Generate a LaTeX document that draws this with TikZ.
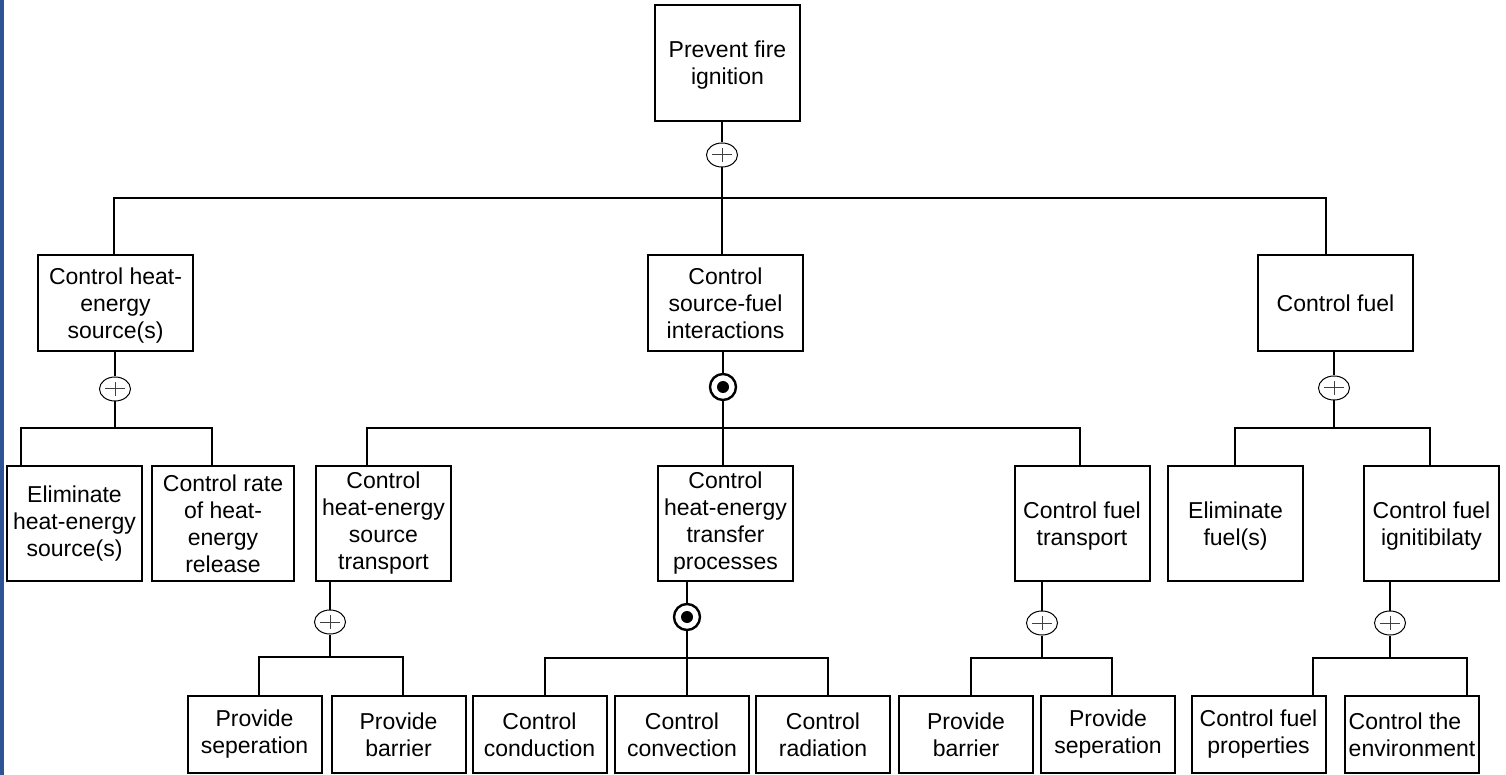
\documentclass[tikz,border=0pt]{standalone}
\usepackage{fontspec}
\setmainfont{Liberation Sans}
\usetikzlibrary{shapes.geometric}
\definecolor{sideblue}{RGB}{46,84,150}

\tikzset{
  box/.style={draw, line width=1pt, align=center, inner sep=1pt,
    font=\fontsize{11.5}{13.5}\selectfont},
  lzero/.style={box, minimum width=72.5pt, minimum height=58pt},
  lone/.style={box, minimum width=77.5pt, minimum height=48pt},
  ltwo/.style={box, minimum width=67.5pt, minimum height=57.5pt},
  lthree/.style={box, minimum width=67pt, minimum height=38.5pt},
  low/.style={text depth=#1},
  orj/.style={ellipse, draw, line width=0.5pt, fill=white, inner sep=0pt,
    minimum width=15.5pt, minimum height=12pt,
    path picture={\draw[line width=0.5pt, black!75]
      (path picture bounding box.center) +(-4.8pt,0) -- +(4.8pt,0)
      (path picture bounding box.center) +(0,-3.4pt) -- +(0,3.4pt);}},
  xorj/.style={circle, draw, line width=1.2pt, fill=white, inner sep=0pt,
    minimum size=13pt,
    path picture={\fill[black] (path picture bounding box.center) circle (3pt);}},
  conn/.style={line width=1pt},
}

\begin{document}
\begin{tikzpicture}[x=0.5pt,y=-0.5pt]
  \useasboundingbox (0,0) rectangle (1506,775);
  \fill[sideblue] (0,0) rectangle (4,775);

  \node (pfi) [lzero, low=-4.6pt] at (727.5,63) {Prevent fire\\ignition};

  \node (chs) [lone, low=-4.6pt] at (115.5,303) {Control heat-\\energy\\source(s)};
  \node (csf) [lone] at (725.5,303) {Control\\source-fuel\\interactions};
  \node (cf)  [lone] at (1335.5,303) {Control fuel};

  \node (ehs) [ltwo] at (74.5,523.5) {Eliminate\\heat-energy\\source(s)};
  \node (crh) [ltwo, minimum width=71pt] at (223,523.5) {Control rate\\of heat-\\energy\\release};
  \node (cst) [ltwo] at (383.5,523.5) {Control\\heat-energy\\source\\transport};
  \node (ctp) [ltwo] at (725.5,523.5) {Control\\heat-energy\\transfer\\processes};
  \node (cft) [ltwo, low=-4.6pt] at (1082,523.5) {Control fuel\\transport};
  \node (ef)  [ltwo, low=-4.6pt] at (1235.5,523.5) {Eliminate\\fuel(s)};
  \node (cfi) [ltwo, low=-4.6pt] at (1431.5,523.5) {Control fuel\\ignitibilaty};

  \node (ps1) [lthree] at (254.5,734.5) {Provide\\seperation};
  \node (pb1) [lthree] at (398.5,734.5) {Provide\\barrier};
  \node (ccd) [lthree] at (539.5,734.5) {Control\\conduction};
  \node (ccv) [lthree] at (682,734.5) {Control\\convection};
  \node (crd) [lthree] at (823,734.5) {Control\\radiation};
  \node (pb2) [lthree] at (966,734.5) {Provide\\barrier};
  \node (ps2) [lthree] at (1108,734.5) {Provide\\seperation};
  \node (cfp) [lthree] at (1258.5,734.5) {Control fuel\\properties};
  \node (cte) [lthree, align=left, inner xsep=0pt] at (1412,734.5) {Control the\\environment};

  \node (j0) [orj] at (722,155) {};
  \node (j1) [orj] at (115,389) {};
  \node (j2) [xorj] at (723,387) {};
  \node (j3) [orj] at (1334,388) {};
  \node (j4) [orj] at (330,622) {};
  \node (j5) [xorj] at (687,617) {};
  \node (j6) [orj] at (1042,623) {};
  \node (j7) [orj] at (1390,623) {};

  \coordinate (b0l) at (114,198);  \coordinate (b0r) at (1326,198);
  \coordinate (b1l) at (21,428);   \coordinate (b1r) at (212,428);
  \coordinate (b2l) at (367,428);  \coordinate (b2r) at (1080,428);
  \coordinate (b3l) at (1235,428); \coordinate (b3r) at (1430,428);
  \coordinate (b4l) at (259,657);  \coordinate (b4r) at (403,657);
  \coordinate (b5l) at (545,658);  \coordinate (b5r) at (828,658);
  \coordinate (b6l) at (971,658);  \coordinate (b6r) at (1112,658);
  \coordinate (b7l) at (1313,658); \coordinate (b7r) at (1467,658);

  \draw[conn] (j0 |- pfi.south) -- (j0);
  \draw[conn] (j0) -- (j0 |- csf.north);
  \draw[conn] (chs.north -| b0l) -- (b0l) -- (b0r) -- (b0r |- cf.north);

  \draw[conn] (j1 |- chs.south) -- (j1);
  \draw[conn] (j1) -- (j1 |- b1l);
  \draw[conn] (ehs.north -| b1l) -- (b1l) -- (b1r) -- (b1r |- crh.north);

  \draw[conn] (j2 |- csf.south) -- (j2);
  \draw[conn] (j2) -- (j2 |- ctp.north);
  \draw[conn] (cst.north -| b2l) -- (b2l) -- (b2r) -- (b2r |- cft.north);

  \draw[conn] (j3 |- cf.south) -- (j3);
  \draw[conn] (j3) -- (j3 |- b3l);
  \draw[conn] (ef.north -| b3l) -- (b3l) -- (b3r) -- (b3r |- cfi.north);

  \draw[conn] (j4 |- cst.south) -- (j4);
  \draw[conn] (j4) -- (j4 |- b4l);
  \draw[conn] (ps1.north -| b4l) -- (b4l) -- (b4r) -- (b4r |- pb1.north);

  \draw[conn] (j5 |- ctp.south) -- (j5);
  \draw[conn] (j5) -- (j5 |- ccv.north);
  \draw[conn] (ccd.north -| b5l) -- (b5l) -- (b5r) -- (b5r |- crd.north);

  \draw[conn] (j6 |- cft.south) -- (j6);
  \draw[conn] (j6) -- (j6 |- b6l);
  \draw[conn] (pb2.north -| b6l) -- (b6l) -- (b6r) -- (b6r |- ps2.north);

  \draw[conn] (j7 |- cfi.south) -- (j7);
  \draw[conn] (j7) -- (j7 |- b7l);
  \draw[conn] (cfp.north -| b7l) -- (b7l) -- (b7r) -- (b7r |- cte.north);
\end{tikzpicture}
\end{document}
